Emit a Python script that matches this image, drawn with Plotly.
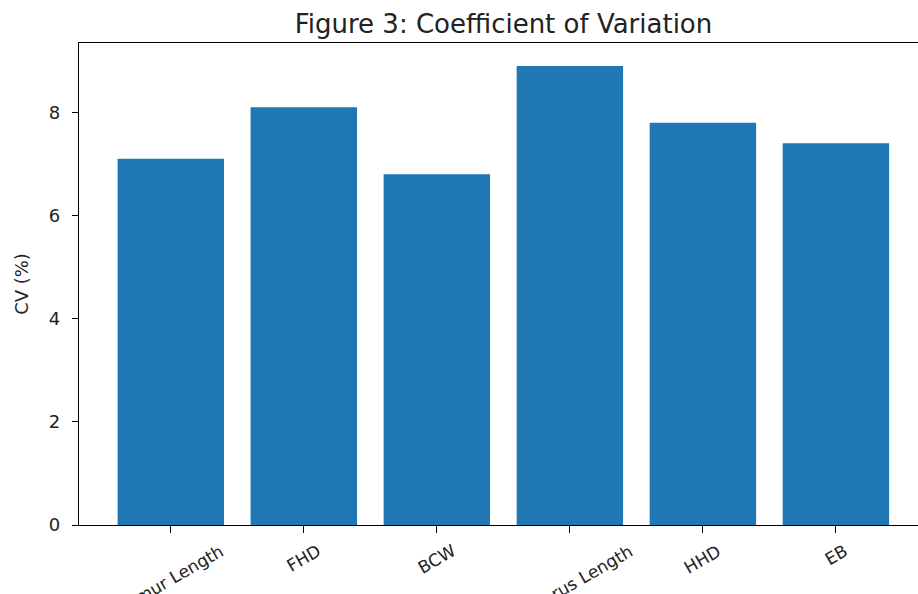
import plotly.graph_objects as go

categories = ["Femur Length", "FHD", "BCW", "Humerus Length", "HHD", "EB"]
cv_values = [7.1, 8.1, 6.8, 8.9, 7.8, 7.4]
y_ticks = [0, 2, 4, 6, 8]

BLUE = "#1f77b4"
FONT = "DejaVu Sans"
TXT = "#222"

W, H = 918, 594

fig = go.Figure()
fig.add_trace(go.Bar(x=list(range(len(categories))), y=cv_values,
                     marker=dict(color=BLUE, line=dict(width=0)), width=0.8))

for i, c in enumerate(categories):
    fig.add_annotation(x=i, y=0, xref="x", yref="paper", text=c, showarrow=False,
                       textangle=-30, xanchor="center", yanchor="top", yshift=-13,
                       font=dict(family=FONT, size=17, color=TXT))

fig.update_layout(
    width=W, height=H,
    margin=dict(l=79, r=0, t=43, b=69, autoexpand=False),
    paper_bgcolor="white", plot_bgcolor="white",
    showlegend=False,
    title=dict(text="Figure 3: Coefficient of Variation", x=503.5 / W, xanchor="center",
               y=1 - 23.5 / H, yanchor="middle",
               font=dict(family=FONT, size=26, color=TXT)),
    xaxis=dict(range=[-0.69, 5.617], tickvals=list(range(len(categories))),
               showticklabels=False, ticks="outside", ticklen=7, tickcolor="black",
               showline=True, linecolor="black", linewidth=1.3, mirror=True,
               showgrid=False, zeroline=False),
    yaxis=dict(range=[0, 9.345], tickvals=y_ticks, ticktext=[str(t) for t in y_ticks],
               ticks="outside", ticklen=6, tickcolor="black", ticklabelstandoff=8,
               showline=True, linecolor="black", linewidth=1.3, mirror=False,
               showgrid=False, zeroline=False,
               tickfont=dict(family=FONT, size=18, color=TXT),
               title=dict(text="CV (%)", font=dict(family=FONT, size=18, color=TXT), standoff=15)),
)
fig.write_html("out.html", config={"displayModeBar": False},
               post_script="document.body.style.margin='0';document.body.style.overflow='hidden';")
